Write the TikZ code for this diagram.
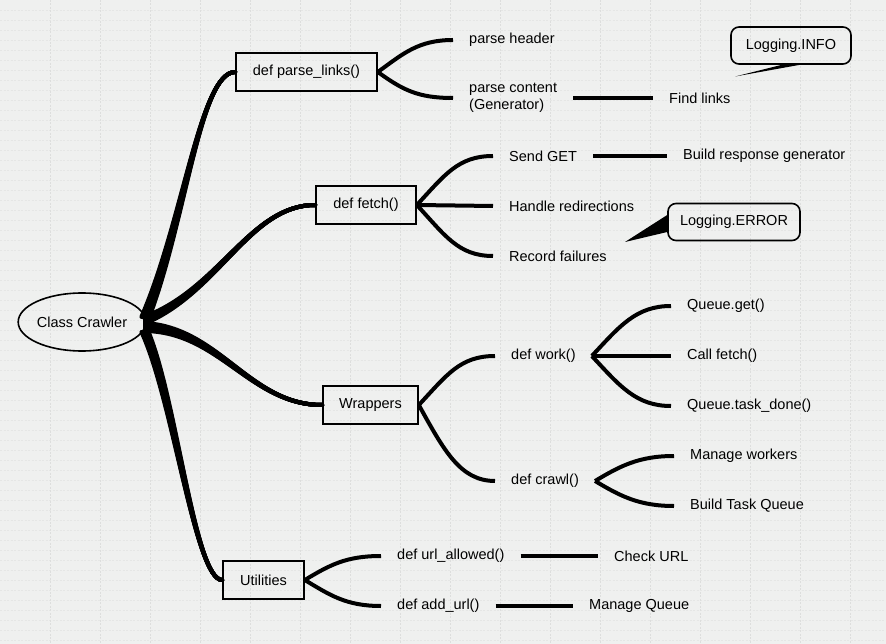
\documentclass[tikz,border=0pt]{standalone}
\usepackage{fontspec}
\setmainfont{Liberation Sans}
\usetikzlibrary{shapes.geometric,calc}
\definecolor{bg}{HTML}{EFF0EF}
\definecolor{gridc}{HTML}{E5E6E5}
\definecolor{gridv}{HTML}{DDDEDD}
\tikzset{
  txt/.style={font=\fontsize{14.5}{17}\selectfont},
  box/.style={draw, txt, line width=1.6pt, minimum height=38pt, inner sep=0pt},
  leaf/.style={txt, anchor=west, inner xsep=16pt, inner ysep=2pt, align=left},
  conn/.style={line width=4pt},
  trunk/.style={line width=4pt, line cap=round},
  callout/.style={draw, txt, line width=1.6pt, rounded corners=8pt, minimum height=37pt, inner sep=0pt},
}
\begin{document}
\begin{tikzpicture}[x=1pt,y=-1pt]
\useasboundingbox (0,0) rectangle (886,644);
\fill[bg] (0,0) rectangle (886,644);
\foreach \yy in {10,20,...,640} \draw[gridc, line width=0.35pt, dash pattern=on 2pt off 1.5pt] (0,\yy) -- (886,\yy);
\foreach \xx in {50,100,...,850} \draw[gridv, line width=0.45pt, dash pattern=on 2pt off 1.5pt] (\xx,0) -- (\xx,644);

% main nodes
\node[draw, ellipse, txt, line width=1.6pt, minimum width=125pt, minimum height=58pt, inner sep=0pt] (cc) at (82,322) {Class Crawler};
\node[box, minimum width=141pt] (pl) at (306.5,72) {def parse\_links()};
\node[box, minimum width=100pt] (fe) at (366,205) {def fetch()};
\node[box, minimum width=95pt] (wr) at (370.5,405) {Wrappers};
\node[box, minimum width=81pt] (ut) at (263.5,580) {Utilities};
\coordinate (hub) at (145,322);

% leaves
\node[leaf] (ph) at (453,40) {parse header};
\node[leaf] (pc) at (453,98) {parse content\\(Generator)};
\node[leaf] (fl) at (653,98) {Find links};
\node[leaf] (sg) at (493,156) {Send GET};
\node[leaf] (hr) at (493,206) {Handle redirections};
\node[leaf] (rf) at (493,256) {Record failures};
\node[leaf] (br) at (667,156) {Build response generator};
\node[leaf] (dw) at (495,356) {def work()};
\node[leaf] (qg) at (671,306) {Queue.get()};
\node[leaf] (cf) at (671,356) {Call fetch()};
\node[leaf] (qt) at (671,406) {Queue.task\_done()};
\node[leaf] (dc) at (495,481) {def crawl()};
\node[leaf] (mw) at (674,456) {Manage workers};
\node[leaf] (bt) at (674,506) {Build Task Queue};
\node[leaf] (ua) at (381,556) {def url\_allowed()};
\node[leaf] (au) at (381,606) {def add\_url()};
\node[leaf] (cu) at (598,556) {Check URL};
\node[leaf] (mq) at (573,606) {Manage Queue};

% callouts
\node[callout, minimum width=120pt] (li) at (791,45.5) {Logging.INFO};
\node[callout, minimum width=132pt] (le) at (734,222) {Logging.ERROR};
\coordinate (litip) at (735,76.5);
\coordinate (letip) at (625,242);
\fill ($(li.south)+(-9,0)$) -- ($(li.south)+(9,0)$) -- (litip) -- cycle;
\fill ($(le.west)+(0,-7)$) -- ($(le.west)+(0,10)$) -- (letip) -- cycle;

% trunk (tapered)
\foreach \d in {-4,-3,...,4} {
  \draw[trunk] ($(hub)+(\d*0.9,-4+\d*0.3)$) .. controls ($(185,220)+(\d*0.4,0)$) and (200,72) .. (pl.west);
  \draw[trunk] ($(hub)+(0,-2+\d*0.9)$) .. controls ($(220,290)+(0,\d*0.5)$) and (250,205) .. (fe.west);
  \draw[trunk] ($(hub)+(0,5+\d)$) .. controls ($(220,330)+(0,\d*0.6)$) and (250,405) .. (wr.west);
  \draw[trunk] ($(hub)+(\d*0.9,10)$) .. controls ($(175,400)+(\d*0.5,0)$) and (195,580) .. (ut.west);
}

% parse_links fan
\draw[conn] (pl.east) .. controls +(25,-18) and +(-35,0) .. (ph.west);
\draw[conn] (pl.east) .. controls +(25,18) and +(-35,0) .. (pc.west);
\draw[conn] (pc.east) -- (fl.west);
% fetch fan
\draw[conn] (fe.east) .. controls +(28,-30) and +(-35,0) .. (sg.west);
\draw[conn] (fe.east) -- (hr.west);
\draw[conn] (fe.east) .. controls +(28,30) and +(-35,0) .. (rf.west);
\draw[conn] (sg.east) -- (br.west);
% wrappers fan
\draw[conn] (wr.east) .. controls +(28,-30) and +(-35,0) .. (dw.west);
\draw[conn] (wr.east) .. controls +(25,45) and +(-35,0) .. (dc.west);
\draw[conn] (dw.east) .. controls +(28,-30) and +(-35,0) .. (qg.west);
\draw[conn] (dw.east) -- (cf.west);
\draw[conn] (dw.east) .. controls +(28,30) and +(-35,0) .. (qt.west);
\draw[conn] (dc.east) .. controls +(25,-15) and +(-35,0) .. (mw.west);
\draw[conn] (dc.east) .. controls +(25,15) and +(-35,0) .. (bt.west);
% utilities fan
\draw[conn] (ut.east) .. controls +(25,-15) and +(-35,0) .. (ua.west);
\draw[conn] (ut.east) .. controls +(25,15) and +(-35,0) .. (au.west);
\draw[conn] (ua.east) -- (cu.west);
\draw[conn] (au.east) -- (mq.west);
\end{tikzpicture}
\end{document}
